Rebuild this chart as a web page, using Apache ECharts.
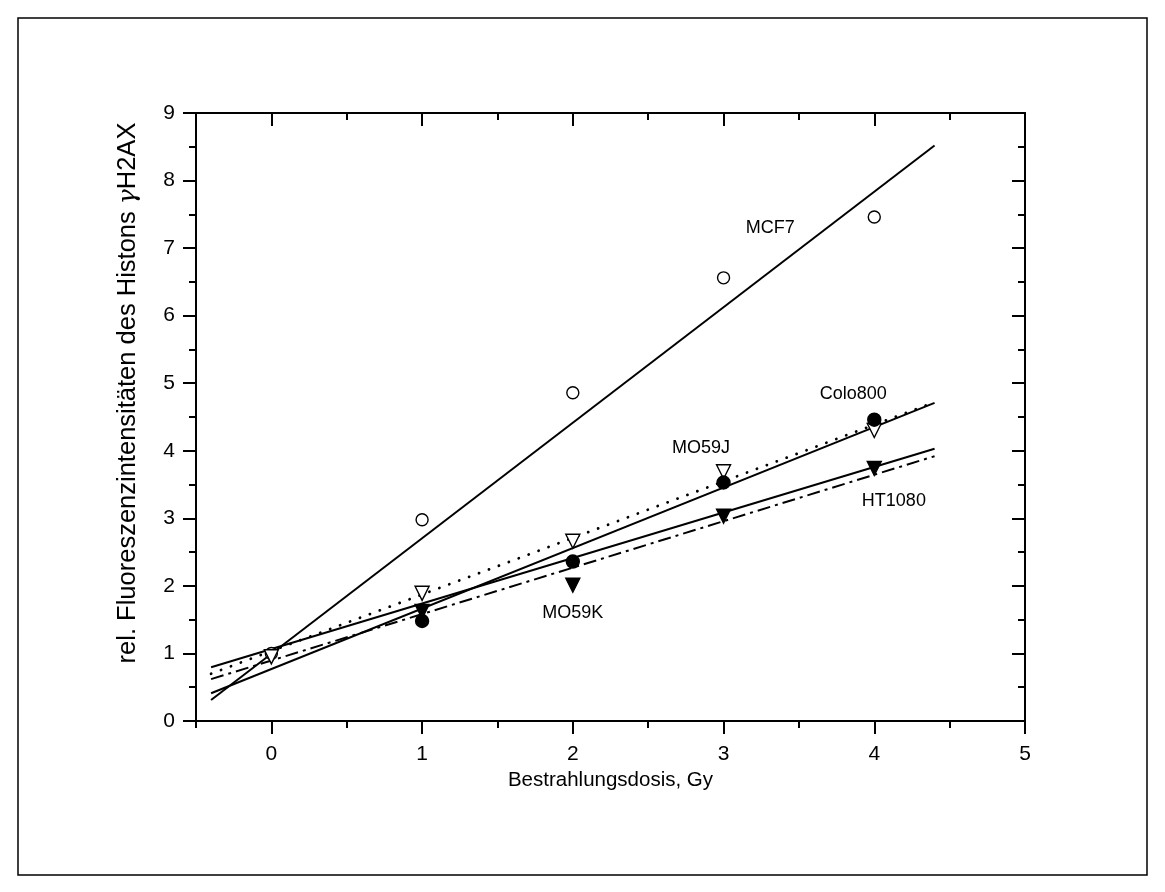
<!DOCTYPE html>
<html>
<head>
<meta charset="utf-8">
<script src="https://cdn.jsdelivr.net/npm/echarts@6/dist/echarts.min.js"></script>
<style>
  html, body { margin: 0; padding: 0; background: #fff; }
  #chart { width: 1165px; height: 892px; }
</style>
</head>
<body>
<div id="chart"></div>
<script>
// Dose axis ticks
const doseTicks = [0, 1, 2, 3, 4, 5];
const doseMinorTicks = [-0.5, 0.5, 1.5, 2.5, 3.5, 4.5];

// Measured relative γH2AX fluorescence per cell line
const doses = [0, 1, 2, 3, 4];
const mcf7 = [1.00, 2.98, 4.86, 6.56, 7.46];
const mo59j = [0.95, 1.89, 2.66, 3.69, 4.30];
const irradiatedDoses = [1, 2, 3, 4];
const colo800 = [1.48, 2.36, 3.53, 4.46];
const mo59k = [1.62, 2.01, 3.03, 3.74];

// Linear fits, evaluated at the ends of the fitted dose range
const fitDoses = [-0.4, 4.4];
const mcf7Fit = [0.31, 8.52];
const colo800Fit = [0.41, 4.71];
const mo59jFit = [0.70, 4.72];
const ht1080Fit = [0.795, 4.03];
const mo59kFit = [0.62, 3.92];

// Cell line annotations (dose, intensity)
const labelNames = ['MCF7', 'Colo800', 'MO59J', 'HT1080', 'MO59K'];
const labelDoses = [3.31, 3.86, 2.85, 4.13, 2.0];
const labelLevels = [7.30, 4.84, 4.04, 3.25, 1.60];

const FONT = 'Liberation Sans, Arial, Helvetica, sans-serif';
const BLACK = '#000';

const pairs = (xs, ys) => xs.map((x, i) => [x, ys[i]]);

function fitLine(name, ys, type, width, cap) {
  return {
    name, type: 'line', data: pairs(fitDoses, ys),
    showSymbol: false, symbol: 'none', silent: true, z: 2,
    lineStyle: { color: BLACK, width: width || 2, type: type || 'solid', cap: cap || 'butt' }
  };
}

function markers(name, xs, ys, symbol, filled, size, rotate, z) {
  return {
    name, type: 'scatter', data: pairs(xs, ys), z: z,
    symbol, symbolSize: size, symbolRotate: rotate || 0,
    itemStyle: { color: filled ? BLACK : '#fff', borderColor: BLACK, borderWidth: 1.4, opacity: 1 }
  };
}

const tickStyle = { color: BLACK, width: 2 };

const option = {
  animation: false,
  backgroundColor: '#fff',
  grid: { left: 196, top: 113, width: 829, height: 608, containLabel: false },
  xAxis: [
    {
      type: 'value', min: -0.5, max: 5, position: 'bottom',
      axisLine: { show: true, onZero: false, lineStyle: { color: BLACK, width: 2 } },
      axisTick: { show: true, customValues: doseTicks, length: 13, inside: false, lineStyle: tickStyle },
      axisLabel: { show: true, customValues: doseTicks, color: BLACK, fontSize: 21, fontFamily: FONT, margin: 23 },
      splitLine: { show: false },
      name: 'Bestrahlungsdosis, Gy', nameLocation: 'middle', nameGap: 48,
      nameTextStyle: { color: BLACK, fontSize: 20.5, fontFamily: FONT }
    },
    {
      type: 'value', min: -0.5, max: 5, position: 'bottom',
      axisLine: { show: false, onZero: false },
      axisTick: { show: true, customValues: doseMinorTicks, length: 7, inside: false, lineStyle: tickStyle },
      axisLabel: { show: false }, splitLine: { show: false }
    },
    {
      type: 'value', min: -0.5, max: 5, position: 'top',
      axisLine: { show: true, onZero: false, lineStyle: { color: BLACK, width: 2 } },
      axisTick: { show: true, customValues: doseTicks, length: 13, inside: true, lineStyle: tickStyle },
      axisLabel: { show: false }, splitLine: { show: false }
    },
    {
      type: 'value', min: -0.5, max: 5, position: 'top',
      axisLine: { show: false, onZero: false },
      axisTick: { show: true, customValues: doseMinorTicks, length: 7, inside: true, lineStyle: tickStyle },
      axisLabel: { show: false }, splitLine: { show: false }
    }
  ],
  yAxis: [
    {
      type: 'value', min: 0, max: 9, interval: 1, position: 'left',
      axisLine: { show: true, onZero: false, lineStyle: { color: BLACK, width: 2 } },
      axisTick: { show: true, length: 13, inside: false, lineStyle: tickStyle },
      minorTick: { show: true, splitNumber: 2, length: 7, lineStyle: tickStyle },
      axisLabel: { color: BLACK, fontSize: 21, fontFamily: FONT, margin: 21 },
      splitLine: { show: false }, minorSplitLine: { show: false }
    },
    {
      type: 'value', min: 0, max: 9, interval: 1, position: 'right',
      axisLine: { show: true, onZero: false, lineStyle: { color: BLACK, width: 2 } },
      axisTick: { show: true, length: 13, inside: true, lineStyle: tickStyle },
      minorTick: { show: true, splitNumber: 2, length: 7, lineStyle: tickStyle },
      axisLabel: { show: false },
      splitLine: { show: false }, minorSplitLine: { show: false }
    }
  ],
  series: [
    fitLine('MCF7 fit', mcf7Fit),
    fitLine('Colo800 fit', colo800Fit),
    fitLine('MO59J fit', mo59jFit, [0.1, 10.5], 2.8, 'round'),
    fitLine('HT1080 fit', ht1080Fit),
    fitLine('MO59K fit', mo59kFit, [13, 5, 3, 5]),
    markers('MCF7', doses, mcf7, 'circle', false, 12, 0, 5),
    markers('MO59J', doses, mo59j, 'triangle', false, 14, 180, 5),
    markers('MO59K', irradiatedDoses, mo59k, 'triangle', true, 14, 180, 6),
    markers('Colo800', irradiatedDoses, colo800, 'circle', true, 13, 0, 7),
    {
      name: 'labels', type: 'scatter', z: 8, silent: true,
      symbolSize: 1, itemStyle: { color: 'rgba(0,0,0,0)', opacity: 1 },
      data: labelNames.map((n, i) => [labelDoses[i], labelLevels[i], n]),
      label: {
        show: true, position: 'inside', formatter: p => p.value[2],
        color: BLACK, fontSize: 18, fontFamily: FONT, textBorderWidth: 0
      }
    }
  ],
  graphic: [
    {
      type: 'rect', silent: true,
      shape: { x: 18, y: 18, width: 1129, height: 857 },
      style: { fill: 'none', stroke: BLACK, lineWidth: 1.5 }
    },
    {
      type: 'text', silent: true, x: 128, y: 393, rotation: Math.PI / 2,
      style: {
        text: 'rel. Fluoreszenzintensitäten des Histons {g|γ}H2AX',
        rich: { g: { fontFamily: 'DejaVu Serif', fontSize: 25, fill: BLACK, fontStyle: 'italic' } },
        fill: BLACK, fontSize: 25.5, fontFamily: FONT, align: 'center', verticalAlign: 'middle'
      }
    }
  ]
};

const chart = echarts.init(document.getElementById('chart'), null, { renderer: 'canvas' });
chart.setOption(option);
</script>
</body>
</html>
